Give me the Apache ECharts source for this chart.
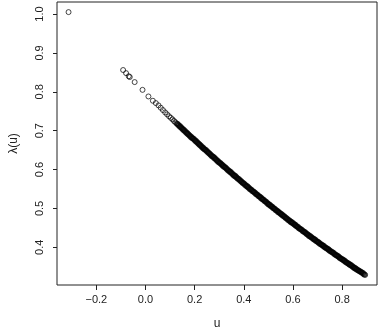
<!DOCTYPE html>
<html lang="en">
<head>
<meta charset="UTF-8">
<title>lambda(u)</title>
<style>
  html, body { margin: 0; padding: 0; background: #fff; }
  #main { width: 379px; height: 335px; }
</style>
</head>
<body>
<div id="main"></div>
<script src="https://cdn.jsdelivr.net/npm/echarts@6/dist/echarts.min.js"></script>
<script>
// tick labels
var xTicks = [-0.2, 0.0, 0.2, 0.4, 0.6, 0.8];
var yTicks = [0.4, 0.5, 0.6, 0.7, 0.8, 0.9, 1.0];

// the lone point top left
var outlierPts = [[-0.313, 1.005]];

// the loose points at the start of the curve
var sparsePts = [
  [-0.091, 0.856], [-0.079, 0.848], [-0.068, 0.840], [-0.064, 0.838],
  [-0.044, 0.825], [-0.012, 0.805], [0.012, 0.788], [0.030, 0.777],
  [0.042, 0.771], [0.053, 0.765], [0.062, 0.759], [0.071, 0.753],
  [0.080, 0.747], [0.088, 0.742], [0.096, 0.737], [0.103, 0.733],
  [0.110, 0.729], [0.116, 0.725], [0.121, 0.722], [0.126, 0.719]
];

// the dense part, read along the thick band
var densePts = [
  [0.130, 0.717], [0.135, 0.714], [0.140, 0.711], [0.145, 0.708], [0.150, 0.705],
  [0.155, 0.702], [0.160, 0.699], [0.165, 0.696], [0.170, 0.693], [0.175, 0.690],
  [0.180, 0.687], [0.185, 0.684], [0.190, 0.681], [0.195, 0.679], [0.200, 0.676],
  [0.205, 0.673], [0.210, 0.670], [0.215, 0.667], [0.220, 0.664], [0.225, 0.661],
  [0.230, 0.658], [0.235, 0.655], [0.240, 0.652], [0.245, 0.650], [0.250, 0.647],
  [0.255, 0.644], [0.260, 0.641], [0.265, 0.638], [0.270, 0.635], [0.275, 0.633],
  [0.280, 0.630], [0.285, 0.627], [0.290, 0.624], [0.295, 0.621], [0.300, 0.618],
  [0.305, 0.616], [0.310, 0.613], [0.315, 0.610], [0.320, 0.607], [0.325, 0.605],
  [0.330, 0.602], [0.335, 0.599], [0.340, 0.596], [0.345, 0.594], [0.350, 0.591],
  [0.355, 0.588], [0.360, 0.585], [0.365, 0.583], [0.370, 0.580], [0.375, 0.577],
  [0.380, 0.575], [0.385, 0.572], [0.390, 0.569], [0.395, 0.566], [0.400, 0.564],
  [0.405, 0.561], [0.410, 0.558], [0.415, 0.556], [0.420, 0.553], [0.425, 0.550],
  [0.430, 0.548], [0.435, 0.545], [0.440, 0.543], [0.445, 0.540], [0.450, 0.537],
  [0.455, 0.535], [0.460, 0.532], [0.465, 0.530], [0.470, 0.527], [0.475, 0.524],
  [0.480, 0.522], [0.485, 0.519], [0.490, 0.517], [0.495, 0.514], [0.500, 0.511],
  [0.505, 0.509], [0.510, 0.506], [0.515, 0.504], [0.520, 0.501], [0.525, 0.499],
  [0.530, 0.496], [0.535, 0.494], [0.540, 0.491], [0.545, 0.489], [0.550, 0.486],
  [0.555, 0.484], [0.560, 0.481], [0.565, 0.479], [0.570, 0.476], [0.575, 0.474],
  [0.580, 0.471], [0.585, 0.469], [0.590, 0.466], [0.595, 0.464], [0.600, 0.462],
  [0.605, 0.459], [0.610, 0.457], [0.615, 0.454], [0.620, 0.452], [0.625, 0.449],
  [0.630, 0.447], [0.635, 0.445], [0.640, 0.442], [0.645, 0.440], [0.650, 0.438],
  [0.655, 0.435], [0.660, 0.433], [0.665, 0.430], [0.670, 0.428], [0.675, 0.426],
  [0.680, 0.423], [0.685, 0.421], [0.690, 0.419], [0.695, 0.416], [0.700, 0.414],
  [0.705, 0.412], [0.710, 0.409], [0.715, 0.407], [0.720, 0.405], [0.725, 0.403],
  [0.730, 0.400], [0.735, 0.398], [0.740, 0.396], [0.745, 0.394], [0.750, 0.391],
  [0.755, 0.389], [0.760, 0.387], [0.765, 0.385], [0.770, 0.382], [0.775, 0.380],
  [0.780, 0.378], [0.785, 0.376], [0.790, 0.373], [0.795, 0.371], [0.800, 0.369],
  [0.805, 0.367], [0.810, 0.365], [0.815, 0.362], [0.820, 0.360], [0.825, 0.358],
  [0.830, 0.356], [0.835, 0.354], [0.840, 0.352], [0.845, 0.349], [0.850, 0.347],
  [0.855, 0.345], [0.860, 0.343], [0.865, 0.341], [0.870, 0.339], [0.875, 0.337],
  [0.880, 0.335], [0.885, 0.333], [0.890, 0.330]
];

// last point stands a little clear of the band
var endPts = [[0.894, 0.329]];

var chart = echarts.init(document.getElementById('main'), null, { renderer: 'canvas' });

var fontFam = '"Liberation Sans", Arial, Helvetica, sans-serif';
var ink = '#222';

function fmt(v) {
  var s = Math.abs(v).toFixed(1);
  return v < -1e-9 ? '\u2212' + s : s;
}

// open circles, like R's pch = 1
function ringSeries(data, size, bw) {
  return {
    type: 'scatter',
    symbol: 'circle',
    symbolSize: size,
    silent: true,
    itemStyle: { color: 'rgba(0,0,0,0)', borderColor: '#000', borderWidth: bw },
    data: data
  };
}

var option = {
  backgroundColor: '#fff',
  animation: false,
  grid: {
    left: 48, right: 2, top: 2, bottom: 40,
    show: true,
    borderColor: ink,
    borderWidth: 1,
    backgroundColor: 'transparent'
  },
  xAxis: {
    type: 'value',
    min: -0.36,
    max: 0.942,
    name: 'u',
    nameLocation: 'middle',
    nameGap: 33,
    nameTextStyle: { color: ink, fontSize: 12, fontFamily: fontFam },
    axisLine: { show: false, onZero: false },
    splitLine: { show: false },
    axisTick: { show: true, length: 5, customValues: xTicks, lineStyle: { color: ink } },
    axisLabel: {
      customValues: xTicks,
      formatter: fmt,
      color: ink, fontSize: 11, fontFamily: fontFam, margin: 9
    }
  },
  yAxis: {
    type: 'value',
    min: 0.303,
    max: 1.031,
    name: '\u03bb(u)',
    nameLocation: 'middle',
    nameGap: 37,
    nameTextStyle: { color: ink, fontSize: 12, fontFamily: fontFam },
    axisLine: { show: false, onZero: false },
    splitLine: { show: false },
    axisTick: { show: true, length: 4, customValues: yTicks, lineStyle: { color: ink } },
    axisLabel: {
      customValues: yTicks,
      formatter: fmt,
      rotate: 90,
      color: ink, fontSize: 11, fontFamily: fontFam, margin: 12
    }
  },
  series: [
    ringSeries(outlierPts.concat(sparsePts, endPts), 5, 0.9),
    ringSeries(densePts, 4.4, 1.7)
  ]
};

chart.setOption(option);
</script>
</body>
</html>
